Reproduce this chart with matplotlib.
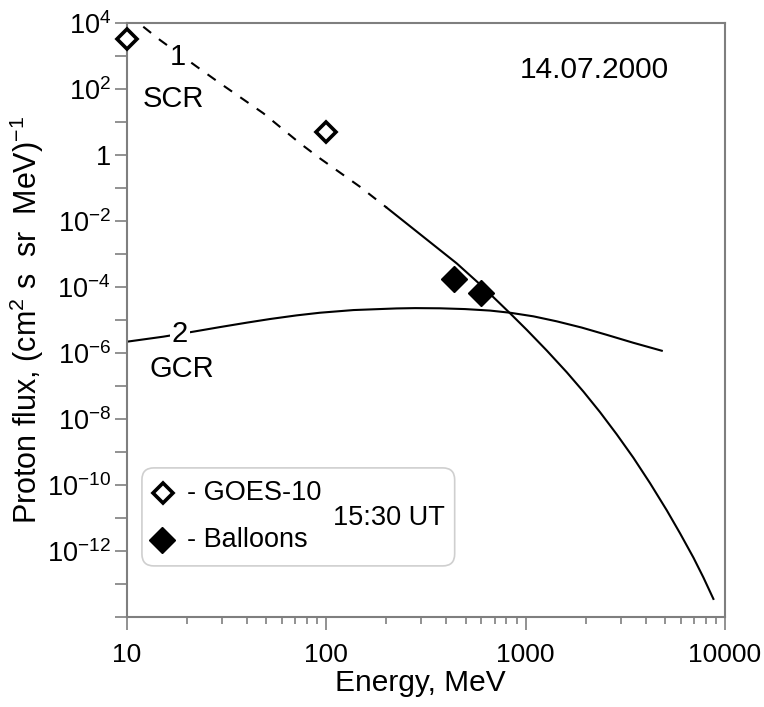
import matplotlib
matplotlib.use("Agg")
import matplotlib.pyplot as plt
from matplotlib.patches import FancyBboxPatch

plt.rcParams["font.family"] = ["Liberation Sans", "DejaVu Sans"]
plt.rcParams["mathtext.fontset"] = "custom"
plt.rcParams["mathtext.rm"] = "Liberation Sans"
plt.rcParams["mathtext.it"] = "Liberation Sans:italic"
plt.rcParams["mathtext.bf"] = "Liberation Sans:bold"

# curve 1 (SCR), dashed part then solid part
scr_dashed_E = [12.07, 14.64, 22.4, 29.3, 48.3, 73.8, 92.9, 147.5, 201]
scr_dashed_F = [7.7e3, 3.05e3, 474, 149, 18.4, 2.26, 0.79, 0.109, 0.0253]
scr_solid_E = [201, 451, 600, 835, 1014, 1276, 1608, 1950, 2362, 2865, 3470,
               4207, 5106, 5953, 6950, 7795, 8750]
scr_solid_F = [0.0253, 5.2e-4, 1.1e-4, 1.6e-5, 5.0e-6, 1.19e-6, 2.61e-7,
               6.75e-8, 1.61e-8, 3.42e-9, 6.73e-10, 1.14e-10, 1.71e-11,
               3.43e-12, 6.28e-13, 1.58e-13, 3.53e-14]

# curve 2 (GCR)
gcr_E = [10, 15.2, 21.5, 29.3, 39.9, 52.2, 71, 93, 137, 225, 279, 372, 497,
         662, 835, 1094, 1433, 1910, 2552, 3468, 4820]
gcr_F = [2.2e-6, 3.12e-6, 4.42e-6, 6.1e-6, 8.3e-6, 1.07e-5, 1.38e-5, 1.66e-5,
         2.0e-5, 2.24e-5, 2.29e-5, 2.26e-5, 2.14e-5, 1.93e-5, 1.66e-5,
         1.29e-5, 9.1e-6, 5.9e-6, 3.55e-6, 2.04e-6, 1.17e-6]

# measurements
goes_E = [10, 100]
goes_F = [3.2e3, 5.1]
balloon_E = [437, 596]
balloon_F = [1.71e-4, 6.7e-5]

x_ticks = [10, 100, 1000, 10000]
x_tick_labels = ["10", "100", "1000", "10000"]
y_ticks = [10.0 ** k for k in range(-14, 5)]
y_tick_labels = ["", "", "$10^{-12}$", "", "$10^{-10}$", "", "$10^{-8}$", "",
                 "$10^{-6}$", "", "$10^{-4}$", "", "$10^{-2}$", "", "1", "",
                 "$10^{2}$", "", "$10^{4}$"]

fig = plt.figure(figsize=(7.64, 7.07), dpi=100)
ax = fig.add_axes([0.1662, 0.1273, 0.7827, 0.8402])
ax.set_xscale("log")
ax.set_yscale("log")
ax.set_xlim(10, 10000)
ax.set_ylim(1e-14, 1e4)

ax.plot(scr_dashed_E, scr_dashed_F, color="black", lw=1.5, dashes=(4.8, 4.8))
ax.plot(scr_solid_E, scr_solid_F, color="black", lw=1.5)
ax.plot(gcr_E, gcr_F, color="black", lw=1.5)

ax.plot(goes_E, goes_F, ls="none", marker="D", ms=10.5, mfc="white",
        mec="black", mew=2.6, clip_on=False, zorder=5)
ax.plot(balloon_E, balloon_F, ls="none", marker="D", ms=13.5, mfc="black",
        mec="black", mew=1, clip_on=False, zorder=5)

# spines and ticks
for s in ax.spines.values():
    s.set_color("#7f7f7f")
    s.set_linewidth(1.5)
ax.set_xticks(x_ticks)
ax.set_xticklabels(x_tick_labels)
ax.set_yticks(y_ticks)
ax.set_yticklabels(y_tick_labels)
ax.yaxis.set_minor_locator(matplotlib.ticker.NullLocator())
ax.tick_params(axis="x", which="major", direction="out", length=9, width=1.2,
               color="#7f7f7f", labelsize=19, pad=9.5)
ax.tick_params(axis="x", which="minor", direction="out", length=5, width=1.2,
               color="#7f7f7f")
ax.tick_params(axis="y", which="major", direction="out", length=8.5, width=1.2,
               color="#7f7f7f", labelsize=19.5, pad=3)
ax.tick_params(top=False, right=False, which="both")

ax.set_xlabel("Energy, MeV", fontsize=21.5)
ax.xaxis.set_label_coords(0.49, -0.087)
ax.set_ylabel("Proton flux, (cm$^2$ s  sr  MeV)$^{-1}$", fontsize=22)
ax.yaxis.set_label_coords(-0.135, 0.50)

# annotations
bb = dict(facecolor="white", edgecolor="none", pad=1)
ax.text(0.085, 0.943, "1", transform=ax.transAxes, fontsize=21,
        ha="center", va="center", bbox=bb)
ax.text(0.027, 0.872, "SCR", transform=ax.transAxes, fontsize=21,
        ha="left", va="center")
ax.text(0.0886, 0.476, "2", transform=ax.transAxes, fontsize=21,
        ha="center", va="center", bbox=bb)
ax.text(0.0385, 0.4175, "GCR", transform=ax.transAxes, fontsize=21,
        ha="left", va="center")
ax.text(0.657, 0.921, "14.07.2000", transform=ax.transAxes, fontsize=21.5,
        ha="left", va="center")

# legend box
box = FancyBboxPatch((0.025, 0.086), 0.523, 0.165, transform=ax.transAxes,
                     boxstyle="round,pad=0,rounding_size=0.02",
                     facecolor="white", edgecolor="#cfcfcf", lw=1.2, zorder=4)
ax.add_patch(box)
ax.plot([0.060], [0.209], transform=ax.transAxes, marker="D", ms=10.5,
        mfc="white", mec="black", mew=2.6, ls="none", zorder=6, clip_on=False)
ax.plot([0.0585], [0.130], transform=ax.transAxes, marker="D", ms=13.5,
        mfc="black", mec="black", ls="none", zorder=6, clip_on=False)
ax.text(0.100, 0.209, "- GOES-10", transform=ax.transAxes, fontsize=19.5,
        ha="left", va="center", zorder=6)
ax.text(0.100, 0.130, "- Balloons", transform=ax.transAxes, fontsize=19.5,
        ha="left", va="center", zorder=6)
ax.text(0.344, 0.167, "15:30 UT", transform=ax.transAxes, fontsize=19.5,
        ha="left", va="center", zorder=6)

fig.savefig("out.png", dpi=100)
